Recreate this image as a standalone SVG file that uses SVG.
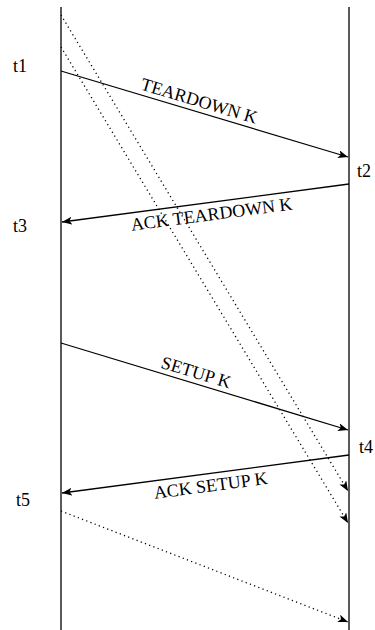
<svg xmlns="http://www.w3.org/2000/svg" width="375" height="630" viewBox="0 0 375 630">
<style>
.life{stroke:#000;stroke-width:1.3;fill:none}
.msg{stroke:#000;stroke-width:1.3;fill:none;marker-end:url(#ah)}
.dot{stroke:#000;stroke-width:1.3;fill:none;stroke-dasharray:1.2 3.3;marker-end:url(#ah)}
text{font-family:"Liberation Serif","Times New Roman",serif;font-size:18px;fill:#000}
</style>
<defs>
<marker id="ah" viewBox="0 0 10 8" refX="10" refY="4" markerWidth="10" markerHeight="8" markerUnits="userSpaceOnUse" orient="auto">
<path d="M0,0 L10,4 L0,8 L2.5,4 Z" fill="#000"/>
</marker>
</defs>
<rect width="375" height="630" fill="#fff"/>
<g id="lifelines">
<line class="life" x1="61" y1="7" x2="61" y2="630"/>
<line class="life" x1="349" y1="7" x2="349" y2="630"/>
</g>
<g id="connectors">
<line class="dot" x1="61" y1="15" x2="348" y2="491"/>
<line class="dot" x1="61" y1="47" x2="348" y2="523"/>
<line class="msg" x1="61" y1="71" x2="348" y2="157"/>
<line class="msg" x1="349" y1="184" x2="62" y2="222"/>
<line class="msg" x1="61" y1="343" x2="348" y2="430"/>
<line class="msg" x1="349" y1="455" x2="62" y2="493"/>
<line class="dot" x1="61" y1="511" x2="348" y2="622"/>
</g>
<g id="labels">
<text transform="translate(196,111.3) rotate(16.63)" x="0" y="-5" text-anchor="middle">TEARDOWN K</text>
<text transform="translate(210,202.3) rotate(-7.52)" x="0" y="18" text-anchor="middle">ACK TEARDOWN K</text>
<text transform="translate(193,382.9) rotate(16.81)" x="0" y="-5" text-anchor="middle">SETUP K</text>
<text transform="translate(209,473.5) rotate(-7.52)" x="0" y="18" text-anchor="middle">ACK SETUP K</text>
</g>
<g id="times">
<text x="13" y="72">t1</text>
<text x="357" y="177">t2</text>
<text x="13" y="232">t3</text>
<text x="359" y="453">t4</text>
<text x="16" y="506">t5</text>
</g>
</svg>
